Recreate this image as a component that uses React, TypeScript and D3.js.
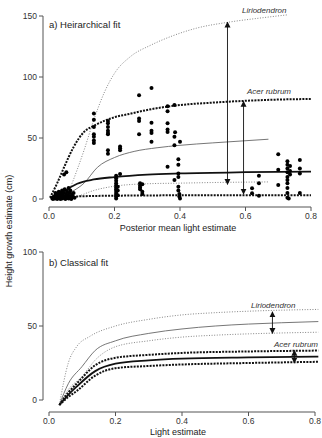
import React from 'react'
import * as d3 from 'd3'

// panel a) scatter: posterior mean light vs height growth
const hierPoints: [number, number][] = [
  [0.01, 1], [0.012, 0], [0.015, 2], [0.018, 0.5], [0.02, 3], [0.02, 5], [0.022, 1], [0.025, 0], [0.025, 4],
  [0.028, 2], [0.03, 6], [0.03, 1], [0.032, 3], [0.035, 0], [0.035, 5], [0.038, 2], [0.04, 7], [0.04, 0.5],
  [0.042, 3], [0.045, 1], [0.045, 5], [0.048, 8], [0.05, 2], [0.05, 0], [0.052, 4], [0.055, 6], [0.055, 1],
  [0.058, 3], [0.06, 9], [0.06, 0.5], [0.062, 5], [0.065, 2], [0.065, 7], [0.068, 0], [0.07, 4], [0.072, 2],
  [0.075, 5], [0.078, 1], [0.046, 20], [0.053, 22],
  [0.137, 70], [0.137, 65], [0.137, 59], [0.137, 53], [0.137, 51], [0.137, 48], [0.137, 46],
  [0.18, 64], [0.18, 62], [0.18, 59], [0.18, 56], [0.18, 54], [0.18, 53], [0.18, 40], [0.18, 37],
  [0.217, 43], [0.217, 41.5], [0.217, 40], [0.217, 20.5],
  [0.205, 19], [0.205, 17], [0.205, 15], [0.205, 13], [0.205, 11], [0.205, 9.5], [0.205, 8], [0.205, 6.5],
  [0.205, 5], [0.205, 3.5], [0.205, 2], [0.205, 0.5], [0.21, 10], [0.21, 7], [0.21, 3],
  [0.275, 85], [0.275, 66], [0.275, 64], [0.275, 53],
  [0.278, 13], [0.278, 11], [0.278, 9.5], [0.278, 8], [0.285, 12], [0.285, 6], [0.285, 4],
  [0.313, 91], [0.313, 62.5], [0.313, 56], [0.313, 54], [0.313, 47],
  [0.362, 76], [0.362, 72], [0.362, 62], [0.362, 57], [0.362, 55], [0.362, 26.5],
  [0.383, 77], [0.385, 54.7], [0.383, 51], [0.383, 44], [0.383, 15.6],
  [0.4, 47], [0.395, 32.5], [0.395, 28], [0.395, 21], [0.395, 18], [0.395, 10], [0.395, 7], [0.398, 4],
  [0.398, 2], [0.4, 0.5],
  [0.62, 8.8], [0.62, 4.7], [0.641, 19], [0.641, 13], [0.641, 2.7],
  [0.7, 36.6], [0.7, 24], [0.7, 11.5],
  [0.728, 31], [0.728, 28], [0.728, 25], [0.728, 22], [0.728, 18], [0.728, 15.6], [0.728, 13], [0.728, 9],
  [0.728, 5], [0.728, 1], [0.736, 27], [0.736, 23], [0.736, 20], [0.732, 0.5],
  [0.766, 32], [0.766, 25], [0.766, 21], [0.766, 5],
]

// panel a) fitted curves
const hierLirioHi: [number, number][] = [
  [0.05, 1], [0.066, 10], [0.086, 24], [0.107, 40], [0.137, 65], [0.17, 88], [0.2, 103], [0.25, 117],
  [0.31, 126], [0.38, 134], [0.45, 140], [0.55, 145], [0.65, 148.5], [0.73, 151],
]
const hierLirioMid: [number, number][] = [
  [0.07, 6], [0.107, 13], [0.148, 26], [0.2, 34], [0.26, 39], [0.33, 42], [0.4, 44], [0.5, 46], [0.67, 49],
]
const hierLirioLo: [number, number][] = [
  [0.06, 0], [0.086, 2], [0.137, 7], [0.2, 10.5], [0.3, 12.5], [0.4, 13], [0.5, 13.5], [0.67, 14],
]
const hierAcerHi: [number, number][] = [
  [0.003, 1], [0.025, 13], [0.046, 26], [0.076, 43], [0.107, 55], [0.137, 60], [0.178, 65], [0.2, 67],
  [0.25, 70], [0.3, 73], [0.4, 77], [0.5, 79], [0.6, 80.5], [0.7, 81.5], [0.8, 82],
]
const hierAcerMid: [number, number][] = [
  [0.03, 2], [0.046, 6], [0.086, 12.5], [0.137, 16], [0.2, 18], [0.3, 20], [0.4, 21], [0.6, 22], [0.8, 22.5],
]
const hierAcerLo: [number, number][] = [
  [0.005, 0], [0.04, 1.2], [0.076, 2], [0.2, 2.7], [0.4, 3], [0.8, 3],
]

// panel b) classical fit curves
const classLirioHi: [number, number][] = [
  [0.031, -3.4], [0.058, 25], [0.083, 36], [0.123, 43], [0.2, 50], [0.3, 54.5], [0.4, 57.5], [0.5, 59],
  [0.6, 60], [0.7, 60.7], [0.81, 61.2],
]
const classLirioMid: [number, number][] = [
  [0.031, -3.4], [0.058, 11], [0.099, 22.5], [0.139, 33.5], [0.2, 40], [0.3, 45], [0.4, 48], [0.5, 50],
  [0.6, 51.3], [0.7, 52.2], [0.81, 53],
]
const classLirioLo: [number, number][] = [
  [0.031, -3.4], [0.058, 7], [0.099, 15.7], [0.139, 27], [0.2, 36], [0.3, 40], [0.4, 42.5], [0.5, 43.8],
  [0.6, 44.7], [0.7, 45.3], [0.81, 45.8],
]
const classAcerHi: [number, number][] = [
  [0.031, -3.4], [0.058, 5], [0.083, 11], [0.139, 23.5], [0.2, 28.5], [0.3, 30.5], [0.4, 31.8],
  [0.6, 32.8], [0.81, 33.4],
]
const classAcerMid: [number, number][] = [
  [0.031, -3.4], [0.058, 3.5], [0.083, 9], [0.139, 19.5], [0.2, 24.5], [0.3, 26.8], [0.4, 28],
  [0.6, 28.8], [0.81, 29.3],
]
const classAcerLo: [number, number][] = [
  [0.031, -3.4], [0.058, 2], [0.083, 6], [0.139, 16.5], [0.2, 21.5], [0.3, 23], [0.4, 24],
  [0.6, 25], [0.81, 25.8],
]

// interval arrows [x, yFrom, yTo]
const hierArrows: [number, number, number][] = [[0.545, 145, 12], [0.594, 80, 4]]
const classArrows: [number, number, number][] = [[0.672, 59.6, 45], [0.738, 33.5, 25]]

const xTicks = [0, 0.2, 0.4, 0.6, 0.8]
const yTicksTop = [0, 50, 100, 150]
const yTicksBot = [0, 50, 100]

const font = "'Liberation Sans', Arial, sans-serif"

const thinDotted = {stroke: '#777', strokeWidth: 0.9, strokeDasharray: '1,1.6'}
const thinSolid = {stroke: '#666', strokeWidth: 0.9}
const thickDashed = {stroke: '#111', strokeWidth: 2, strokeDasharray: '2,1.2'}
const thickSolid = {stroke: '#111', strokeWidth: 1.8}

const Panel = ({x, y, yTicks, pts, curves, arrows, labels, title, axisY, xLabel, xLabelY}) => {
  const line = d3.line<[number, number]>().x(d => x(d[0])).y(d => y(d[1])).curve(d3.curveMonotoneX)
  const [y0, y1] = y.range()
  return (
    <g fontFamily={font}>
      {/* y axis */}
      <line x1={43} x2={43} y1={y(yTicks[0])} y2={y(yTicks[yTicks.length - 1])} stroke="#555" />
      {yTicks.map(t => (
        <g key={t}>
          <line x1={39} x2={43} y1={y(t)} y2={y(t)} stroke="#555" />
          <text x={37} y={y(t) + 3} fontSize={8.5} textAnchor="end" fill="#333">{t}</text>
        </g>
      ))}
      {/* x axis */}
      <line x1={x(0)} x2={x(0.8)} y1={axisY} y2={axisY} stroke="#555" />
      {xTicks.map(t => (
        <g key={t}>
          <line x1={x(t)} x2={x(t)} y1={axisY} y2={axisY + 4} stroke="#555" />
          <text x={x(t)} y={axisY + 12} fontSize={8.5} textAnchor="middle" fill="#333">{t.toFixed(1)}</text>
        </g>
      ))}
      <text x={178} y={xLabelY} fontSize={9} textAnchor="middle" fill="#222">{xLabel}</text>
      <text x={49} y={title.y} fontSize={9.5} fill="#222">{title.text}</text>

      {curves.map((c, i) => (
        <path key={i} d={line(c.data)} fill="none" {...c.style} />
      ))}
      {pts.map((d, i) => (
        <circle key={i} cx={x(d[0])} cy={y(d[1])} r={2} fill="#000" />
      ))}
      {arrows.map((a, i) => (
        <line key={i} x1={x(a[0])} x2={x(a[0])} y1={y(a[1])} y2={y(a[2])} stroke="#111" strokeWidth={0.9}
          markerStart="url(#head)" markerEnd="url(#head)" />
      ))}
      {labels.map((l, i) => (
        <text key={i} x={l.x} y={l.y} fontSize={8} fontStyle="italic" fill="#333">{l.text}</text>
      ))}
    </g>
  )
}

export default function App() {
  const xTop = d3.scaleLinear().domain([0, 0.8]).range([49, 311])
  const yTop = d3.scaleLinear().domain([0, 150]).range([199, 16])
  const xBot = d3.scaleLinear().domain([0, 0.8]).range([49, 315])
  const yBot = d3.scaleLinear().domain([0, 100]).range([400, 252])

  const topCurves = [
    {data: hierLirioHi, style: thinDotted},
    {data: hierLirioMid, style: thinSolid},
    {data: hierLirioLo, style: thinDotted},
    {data: hierAcerHi, style: thickDashed},
    {data: hierAcerMid, style: thickSolid},
    {data: hierAcerLo, style: thickDashed},
  ]
  const botCurves = [
    {data: classLirioHi, style: thinDotted},
    {data: classLirioMid, style: thinSolid},
    {data: classLirioLo, style: thinDotted},
    {data: classAcerHi, style: thickDashed},
    {data: classAcerMid, style: thickSolid},
    {data: classAcerLo, style: thickDashed},
  ]

  return (
    <svg width={322} height={438} style={{position: 'absolute', left: 0, top: 0, background: '#fff'}}>
      <defs>
        <marker id="head" viewBox="0 0 10 10" refX={9} refY={5} markerWidth={6} markerHeight={7}
          markerUnits="userSpaceOnUse" orient="auto-start-reverse">
          <path d="M0,0 L10,5 L0,10 z" fill="#111" />
        </marker>
      </defs>
      <Panel x={xTop} y={yTop} yTicks={yTicksTop} pts={hierPoints} curves={topCurves} arrows={hierArrows}
        labels={[{x: 242, y: 13, text: 'Liriodendron'}, {x: 247, y: 94, text: 'Acer rubrum'}]}
        title={{text: 'a) Heirarchical fit', y: 28}} axisY={207}
        xLabel="Posterior mean light estimate" xLabelY={231} />
      <Panel x={xBot} y={yBot} yTicks={yTicksBot} pts={[]} curves={botCurves} arrows={classArrows}
        labels={[{x: 251, y: 308, text: 'Liriodendron'}, {x: 274, y: 347, text: 'Acer rubrum'}]}
        title={{text: 'b) Classical fit', y: 266}} axisY={412}
        xLabel="Light estimate" xLabelY={435} />
      <text transform="translate(12,231) rotate(-90)" fontFamily={font} fontSize={9} textAnchor="middle"
        fill="#222">Height growth estimate (cm)</text>
    </svg>
  )
}
